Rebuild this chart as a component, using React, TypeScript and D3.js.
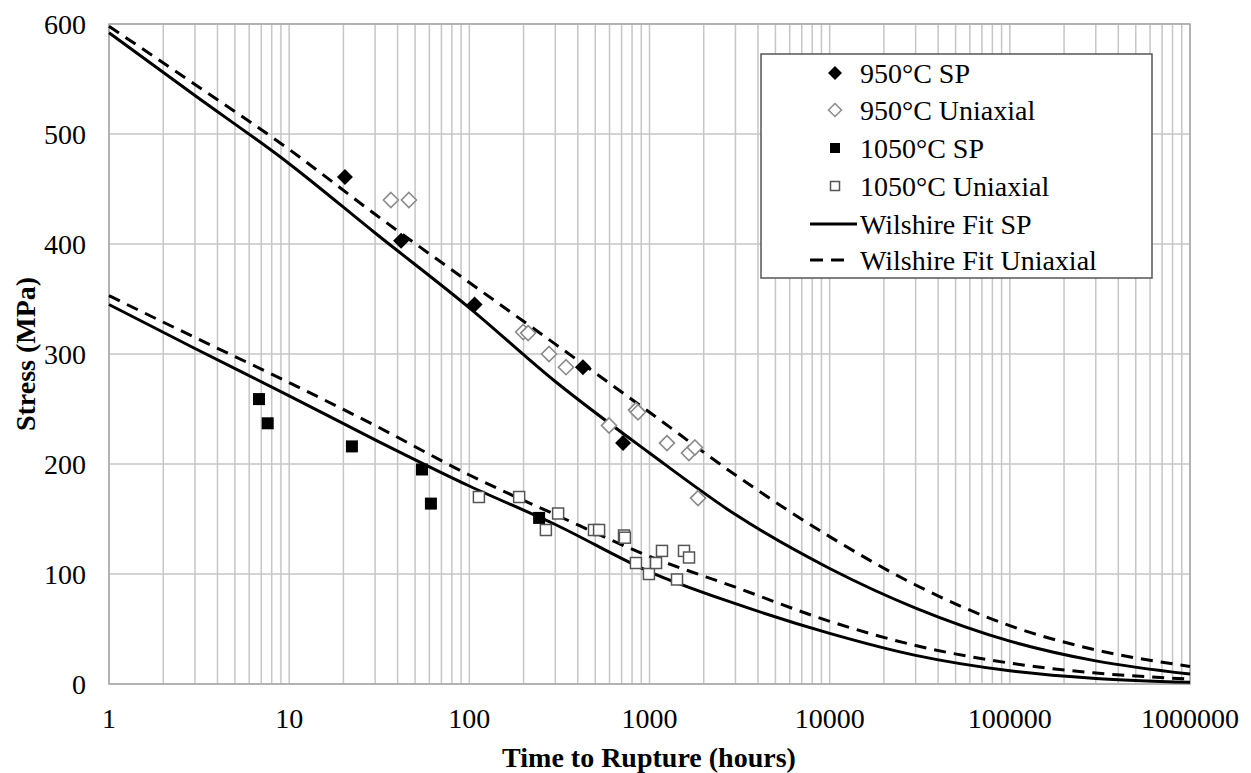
import React from 'react';
import * as d3 from 'd3';

// ---- data ----
const xTicks = [1, 10, 100, 1000, 10000, 100000, 1000000];
const yTicks = [0, 100, 200, 300, 400, 500, 600];

const sp950: [number, number][] = [[20.4, 461], [41.8, 403], [107, 345], [427, 288], [713, 219]];
const uni950: [number, number][] = [
  [36.7, 440], [46.2, 440], [199, 320], [212, 319], [277, 300], [344, 288],
  [841, 249], [863, 247], [596, 235], [1250, 219], [1656, 210], [1787, 215], [1859, 169],
];
const sp1050: [number, number][] = [[6.8, 259], [7.6, 237], [22.3, 216], [54.6, 195], [61.2, 164], [244, 151]];
const uni1050: [number, number][] = [
  [113, 170], [189, 170], [266, 140], [311, 155], [492, 140], [525, 140], [722, 135], [730, 133],
  [841, 110], [993, 100], [1087, 110], [1173, 121], [1421, 95], [1554, 121], [1657, 115],
];

const fitSP950: [number, number][] = [
  [1, 592], [3, 535], [10, 473], [30, 410], [100, 342], [300, 275], [1000, 210], [3000, 154],
  [10000, 105], [30000, 69], [100000, 39], [300000, 21], [1000000, 9],
];
const fitUni950: [number, number][] = [
  [1, 598], [3, 545], [10, 486], [30, 427], [100, 365], [300, 309], [1000, 247], [3000, 190],
  [10000, 134], [30000, 90], [100000, 53], [300000, 31], [1000000, 16],
];
const fitSP1050: [number, number][] = [
  [1, 345], [3, 305], [10, 262], [30, 222], [100, 180], [300, 145], [1000, 102], [3000, 73],
  [10000, 46], [30000, 26], [100000, 12], [300000, 5], [1000000, 1.5],
];
const fitUni1050: [number, number][] = [
  [1, 353], [3, 315], [10, 274], [30, 235], [100, 190], [300, 154], [1000, 116], [3000, 88],
  [10000, 57], [30000, 35], [100000, 19], [300000, 10], [1000000, 4.5],
];

const legendLabels = [
  '950°C SP', '950°C Uniaxial', '1050°C SP', '1050°C Uniaxial', 'Wilshire Fit SP', 'Wilshire Fit Uniaxial',
];

// ---- layout ----
const W = 1251, H = 773;
const L = 109, T = 24, R = 1190, B = 684;
const FONT = 'Liberation Serif, Tinos, Times New Roman, DejaVu Serif, serif';

export default function App() {
  const x = d3.scaleLog().domain([1, 1000000]).range([L, R]);
  const y = d3.scaleLinear().domain([0, 600]).range([B, T]);

  const minor: number[] = [];
  for (let e = 0; e < 6; e++) for (let m = 1; m <= 9; m++) minor.push(m * Math.pow(10, e));
  minor.push(1000000);

  const line = d3.line<[number, number]>().x(d => x(d[0])).y(d => y(d[1])).curve(d3.curveMonotoneX);

  const diamond = (cx: number, cy: number, r: number) =>
    `M${cx},${cy - r}L${cx + r},${cy}L${cx},${cy + r}L${cx - r},${cy}Z`;

  const gridColor = '#c6c6c6';
  const dash = '12 8';

  const lx = 761, ly = 54, lw = 391, lh = 224;
  const rowY = [73, 110, 148, 186, 224, 260];
  const mx = 835, tx = 860;

  const txt = { fontFamily: FONT };

  return (
    <svg width={W} height={H} style={{ position: 'absolute', left: 0, top: 0, background: '#fff' }}>
      <rect x={0} y={0} width={W} height={H} fill="#fff" />
      {/* grid */}
      {minor.map((v, i) => (
        <line key={'v' + i} x1={x(v)} x2={x(v)} y1={T} y2={B} stroke={gridColor} strokeWidth={1.5} />
      ))}
      {yTicks.map(v => (
        <line key={'h' + v} x1={L} x2={R} y1={y(v)} y2={y(v)} stroke={gridColor} strokeWidth={1.5} />
      ))}
      <rect x={L} y={T} width={R - L} height={B - T} fill="none" stroke="#a8a8a8" strokeWidth={1.5} />

      {/* fits */}
      <path d={line(fitSP950) || ''} fill="none" stroke="#000" strokeWidth={3} />
      <path d={line(fitUni950) || ''} fill="none" stroke="#000" strokeWidth={3} strokeDasharray={dash} />
      <path d={line(fitSP1050) || ''} fill="none" stroke="#000" strokeWidth={3} />
      <path d={line(fitUni1050) || ''} fill="none" stroke="#000" strokeWidth={3} strokeDasharray={dash} />

      {/* points */}
      {uni950.map((d, i) => (
        <path key={'u9' + i} d={diamond(x(d[0]), y(d[1]), 7.5)} fill="#fff" stroke="#8a8a8a" strokeWidth={1.6} />
      ))}
      {sp950.map((d, i) => (
        <path key={'s9' + i} d={diamond(x(d[0]), y(d[1]), 8)} fill="#000" />
      ))}
      {uni1050.map((d, i) => (
        <rect key={'u1' + i} x={x(d[0]) - 5.5} y={y(d[1]) - 5.5} width={11} height={11} fill="#fff" stroke="#555" strokeWidth={1.5} />
      ))}
      {sp1050.map((d, i) => (
        <rect key={'s1' + i} x={x(d[0]) - 6} y={y(d[1]) - 6} width={12} height={12} fill="#000" />
      ))}

      {/* axes labels */}
      {yTicks.map(v => (
        <text key={'yt' + v} x={86} y={y(v)} dy="0.35em" textAnchor="end" style={txt} fontSize={28} fill="#000">
          {v}
        </text>
      ))}
      {xTicks.map(v => (
        <text key={'xt' + v} x={x(v)} y={718} dy="0.35em" textAnchor="middle" style={txt} fontSize={28} fill="#000">
          {v}
        </text>
      ))}
      <text x={649} y={757} dy="0.35em" textAnchor="middle" style={txt} fontSize={28} fontWeight="bold">
        Time to Rupture (hours)
      </text>
      <text transform={`translate(25,${(T + B) / 2}) rotate(-90)`} dy="0.35em" textAnchor="middle" style={txt} fontSize={28} fontWeight="bold">
        Stress (MPa)
      </text>

      {/* legend */}
      <rect x={lx} y={ly} width={lw} height={lh} fill="#fff" stroke="#555" strokeWidth={1.5} />
      <path d={diamond(mx, rowY[0], 7)} fill="#000" />
      <path d={diamond(mx, rowY[1], 6.5)} fill="#fff" stroke="#8a8a8a" strokeWidth={1.5} />
      <rect x={mx - 5} y={rowY[2] - 5} width={10} height={10} fill="#000" />
      <rect x={mx - 4.5} y={rowY[3] - 4.5} width={9} height={9} fill="#fff" stroke="#555" strokeWidth={1.5} />
      <line x1={mx - 25} x2={mx + 22} y1={rowY[4]} y2={rowY[4]} stroke="#000" strokeWidth={3} />
      <line x1={mx - 25} x2={mx + 12} y1={rowY[5]} y2={rowY[5]} stroke="#000" strokeWidth={3} strokeDasharray="13 8" />
      {legendLabels.map((s, i) => (
        <text key={'lg' + i} x={tx} y={rowY[i]} dy="0.35em" style={txt} fontSize={28} fill="#000">
          {s}
        </text>
      ))}
    </svg>
  );
}
